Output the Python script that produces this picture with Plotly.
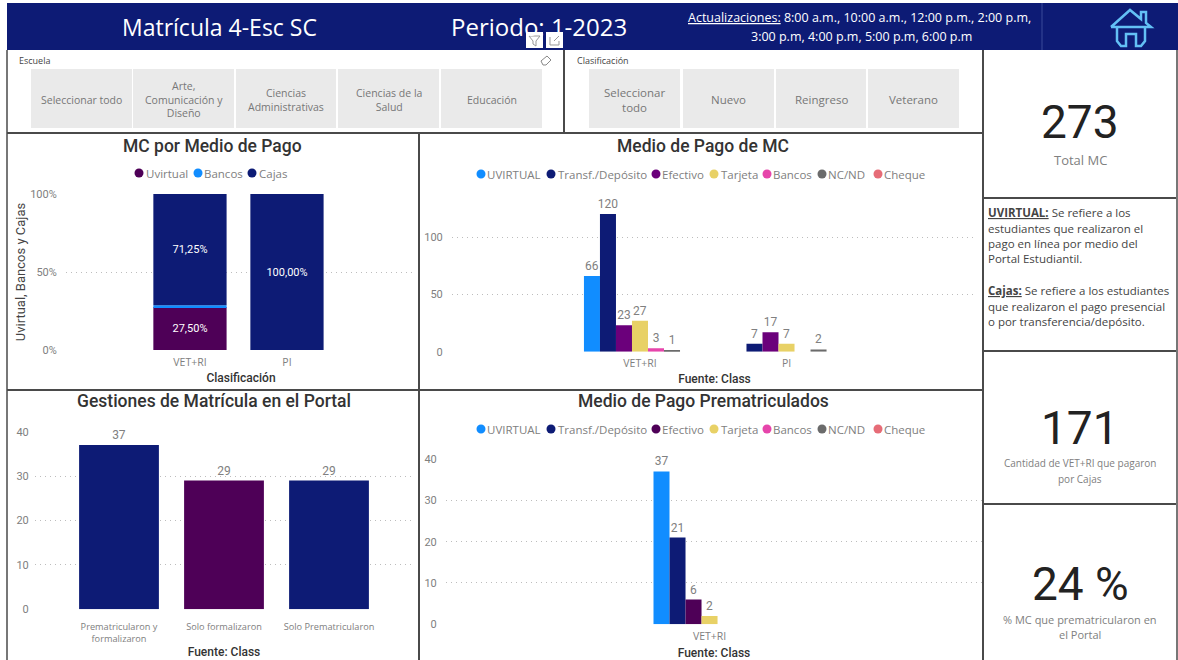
import plotly.graph_objects as go

W, H = 1178, 660
NAVY = "#0D1B75"
PURPLE_DK = "#4E0057"
SANS = "Open Sans"
DIN = "Roboto"
GRAY = "#808080"
DARK = "#333333"
FRAME = "#4a4a4a"

# ---------- data ----------
class_mix = ["VET+RI", "PI"]
mix_uvirtual = [27.5, None]
mix_bancos = [1.25, None]
mix_cajas = [71.25, 100.0]
mix_uvirtual_text = ["27,50%", ""]
mix_cajas_text = ["71,25%", "100,00%"]
mix_names = ["Uvirtual", "Bancos", "Cajas"]
mix_colors = [PURPLE_DK, "#118DFF", NAVY]

pay_names = ["UVIRTUAL", "Transf./Depósito", "Efectivo", "Tarjeta", "Bancos", "NC/ND", "Cheque"]
pay_colors_mc = ["#118DFF", NAVY, "#6B007B", "#E8D166", "#E645AB", "#6B6B6B", "#E66C77"]
pay_colors_pre = ["#118DFF", NAVY, PURPLE_DK, "#E8D166", "#E645AB", "#6B6B6B", "#E66C77"]

class_mc = ["VET+RI", "PI"]
mc_uvirtual = [66, None]
mc_transf = [120, 7]
mc_efectivo = [23, 17]
mc_tarjeta = [27, 7]
mc_bancos = [3, None]
mc_ncnd = [1, 2]
mc_cheque = [None, None]

class_pre = ["VET+RI"]
pre_uvirtual = [37]
pre_transf = [21]
pre_efectivo = [6]
pre_tarjeta = [2]
pre_bancos = [None]
pre_ncnd = [None]
pre_cheque = [None]

gest_cats = ["Prematricularon y formalizaron", "Solo formalizaron", "Solo Prematricularon"]
gest_ticks = ["Prematricularon y<br>formalizaron", "Solo formalizaron", "Solo Prematricularon"]
gest_vals = [37, 29, 29]
gest_colors = [NAVY, PURPLE_DK, NAVY]

school_buttons = ["Seleccionar todo", "Arte,<br>Comunicación y<br>Diseño", "Ciencias<br>Administrativas",
                  "Ciencias de la<br>Salud", "Educación"]
class_buttons = ["Seleccionar<br>todo", "Nuevo", "Reingreso", "Veterano"]


def fx(x):
    return x / W


def fy(y):
    return 1 - y / H


shapes, notes = [], []


def rect(x0, y0, x1, y1, fill, line=None, lw=0):
    shapes.append(dict(type="rect", xref="paper", yref="paper", x0=fx(x0), x1=fx(x1), y0=fy(y0), y1=fy(y1),
                       fillcolor=fill, line=dict(color=line or fill, width=lw), layer="below"))


def seg(x0, y0, x1, y1, color=FRAME, lw=2):
    shapes.append(dict(type="line", xref="paper", yref="paper", x0=fx(x0), x1=fx(x1), y0=fy(y0), y1=fy(y1),
                       line=dict(color=color, width=lw), layer="below"))


def path(points, color, lw, close=False):
    d = "M " + " L ".join(f"{fx(a):.5f},{fy(b):.5f}" for a, b in points) + (" Z" if close else "")
    shapes.append(dict(type="path", xref="paper", yref="paper", path=d, line=dict(color=color, width=lw), layer="above"))


def text(x, y, s, size=12, color=GRAY, font=SANS, anchor="center", weight=None):
    f = dict(size=size, color=color, family=font)
    if weight:
        f["weight"] = weight
    notes.append(dict(xref="paper", yref="paper", x=fx(x - 2 if anchor == "left" else x), y=fy(y), text=s,
                      showarrow=False, xanchor=anchor, yanchor="middle", align=anchor, font=f))


def legend(names, colors, dots, starts, y, size=11.5):
    for n, c, d, s in zip(names, colors, dots, starts):
        shapes.append(dict(type="circle", xref="paper", yref="paper", x0=fx(d - 4.5), x1=fx(d + 4.5),
                           y0=fy(y + 4.5), y1=fy(y - 4.5), fillcolor=c, line=dict(width=0), layer="above"))
        text(s, y, n, size=size, color=GRAY, anchor="left")


# ---------- chrome ----------
rect(7, 3, 1178, 50, NAVY)
seg(1042, 3, 1042, 50, "#3a4a9a", 1)
text(219, 27, "Matrícula 4-Esc SC", 23, "white")
text(539, 27, "Periodo: 1-2023", 24, "white")
text(859, 18, "<u>Actualizaciones:</u> 8:00 a.m., 10:00 a.m., 12:00 p.m., 2:00 p.m,", 12.5, "white")
text(861, 37, "3:00 p.m, 4:00 p.m, 5:00 p.m, 6:00 p.m", 12.5, "white")

# house icon
path([(1111, 27), (1130, 10), (1141, 19), (1141, 12), (1146, 12), (1146, 23), (1151, 27), (1111, 27)], "#63C0F5", 2.5)
path([(1117, 27), (1117, 41), (1121, 46), (1126, 46), (1126, 34), (1136, 34), (1136, 46), (1141, 46), (1145, 41), (1145, 27)],
     "#63C0F5", 2.5)

# frames
seg(7, 50, 7, 660, "#777777")
seg(7, 133, 983, 133)
seg(564, 50, 564, 133)
seg(983, 50, 983, 660)
seg(419, 133, 419, 660)
seg(7, 390, 983, 390)
seg(983, 198, 1178, 198)
seg(983, 351, 1178, 351)
seg(983, 504, 1178, 504)
seg(1177, 50, 1177, 660, "#777777")

# slicers
text(19, 61, "Escuela", 9, "#444444", anchor="left")
text(577, 61, "Clasificación", 9, "#444444", anchor="left")
school_edges = [(31, 132), (133, 234), (236, 336), (338, 439), (441, 542)]
for (a, b), s in zip(school_edges, school_buttons):
    rect(a, 69, b, 128, "#EAEAEA")
    text((a + b) / 2, 99.5, s, 10.5, "#777777")
class_edges = [(589, 680), (683, 774), (776, 866), (868, 959)]
for (a, b), s in zip(class_edges, class_buttons):
    rect(a, 69, b, 128, "#EAEAEA")
    text((a + b) / 2, 99.5, s, 11.5, "#777777")

# visual header icons
rect(526, 32, 543, 48, "white")
rect(546, 32, 563, 48, "white")
path([(529, 36), (540, 36), (536, 41), (536, 46), (533, 44), (533, 41)], "#999999", 1, True)
path([(550, 37), (550, 45), (559, 45), (559, 41)], "#999999", 1)
path([(554, 41), (559, 36)], "#999999", 1)
path([(541, 61), (547, 56), (551, 60), (546, 65), (543, 65)], "#888888", 1, True)

# KPI cards
text(1080, 122, "273", 46, "#222222", DIN)
text(1080, 160, "Total MC", 13, GRAY)
text(1080, 428, "171", 46, "#222222", DIN)
text(1080, 463, "Cantidad de VET+RI que pagaron", 10, GRAY)
text(1080, 479, "por Cajas", 10, GRAY)
text(1080, 584, "24 %", 46, "#222222", DIN)
text(1080, 619, "% MC que prematricularon en", 11, GRAY)
text(1080, 634, "el Portal", 11, GRAY)

note_lines = [
    (212, "<b><u>UVIRTUAL:</u></b> Se refiere a los"),
    (228, "estudiantes que realizaron el"),
    (243, "pago en línea por medio del"),
    (259, "Portal Estudiantil."),
    (290, "<b><u>Cajas:</u></b> Se refiere a los estudiantes"),
    (306, "que realizaron el pago presencial"),
    (321, "o por transferencia/depósito."),
]
for y, s in note_lines:
    text(988, y, s, 11.5, "#444444", anchor="left")

# chart titles
text(212, 146, "MC por Medio de Pago", 17.5, DARK, DIN, weight=500)
text(703, 146, "Medio de Pago de MC", 17.5, DARK, DIN, weight=500)
text(214, 401, "Gestiones de Matrícula en el Portal", 17.5, DARK, DIN, weight=500)
text(703, 401, "Medio de Pago Prematriculados", 17.5, DARK, DIN, weight=500)

# legends
legend(mix_names, mix_colors, [139, 198, 252], [146, 204, 259], 173, 11.5)
pay_dots = [481, 551, 656, 714, 767, 822, 878]
pay_starts = [487, 558, 662, 721, 773, 828, 884]
legend(pay_names, pay_colors_mc, pay_dots, pay_starts, 174, 11.5)
legend(pay_names, pay_colors_pre, pay_dots, pay_starts, 429, 11.5)


# ---------- axes ----------
def axes(xname, yname, x0, x1, ybot, ytop, xr, yr, tickvals, ticktext, ticksize=11, gap=6, xtitle=None, ytitle=None,
         standoff=6, xfont=10.5, xgap=2):
    fig.update_layout({
        xname: dict(domain=[fx(x0), fx(x1)], range=xr, type="category", showgrid=False, showline=False, zeroline=False,
                    ticks="outside", ticklen=xgap, tickcolor="rgba(0,0,0,0)", tickangle=0, automargin=False,
                    tickfont=dict(size=xfont, color=GRAY, family=SANS),
                    title=dict(text=xtitle, standoff=standoff, font=dict(size=12, color=DARK, family=DIN, weight=500)),
                    anchor=yname.replace("axis", ""), fixedrange=True),
        yname: dict(domain=[fy(ybot), fy(ytop)], range=yr, showgrid=True, griddash="1px,4px", gridcolor="#bdbdbd",
                    gridwidth=1, zeroline=False, showline=False, tickmode="array", tickvals=tickvals, ticktext=ticktext,
                    ticks="outside", ticklen=gap, tickcolor="rgba(0,0,0,0)", automargin=False,
                    tickfont=dict(size=ticksize, color=GRAY, family=DIN),
                    title=dict(text=ytitle, standoff=1, font=dict(size=13, color="#444444", family=DIN)),
                    anchor=xname.replace("axis", ""), fixedrange=True),
    })


fig = go.Figure()

# panel 1: stacked share by payment channel (stack built from the series themselves)
base_bancos = [(u or 0) for u in mix_uvirtual]
base_cajas = [(u or 0) + (b or 0) for u, b in zip(mix_uvirtual, mix_bancos)]
for vals, base, color, name, labels in [
    (mix_uvirtual, None, mix_colors[0], mix_names[0], mix_uvirtual_text),
    (mix_bancos, base_bancos, mix_colors[1], mix_names[1], None),
    (mix_cajas, base_cajas, mix_colors[2], mix_names[2], mix_cajas_text),
]:
    fig.add_trace(go.Bar(x=class_mix, y=vals, base=base, name=name, marker=dict(color=color, line=dict(width=0)),
                         width=0.755, offset=-0.3775, text=labels, textposition="inside", insidetextanchor="middle",
                         textangle=0, constraintext="none", textfont=dict(size=11, color="white", family=DIN),
                         xaxis="x", yaxis="y", showlegend=False))

# panel 2
for vals, color, name in zip([mc_uvirtual, mc_transf, mc_efectivo, mc_tarjeta, mc_bancos, mc_ncnd, mc_cheque],
                             pay_colors_mc, pay_names):
    fig.add_trace(go.Bar(x=class_mc, y=vals, name=name, marker=dict(color=color, line=dict(width=0)), text=vals,
                         textposition="outside", cliponaxis=False, constraintext="none", textangle=0,
                         textfont=dict(size=12, color=GRAY, family=DIN), xaxis="x2", yaxis="y2", showlegend=False))

# panel 3
fig.add_trace(go.Bar(x=gest_cats, y=gest_vals, marker=dict(color=gest_colors, line=dict(width=0)), text=gest_vals,
                     width=0.76, offset=-0.38, textposition="outside", cliponaxis=False, constraintext="none",
                     textfont=dict(size=12, color=GRAY, family=DIN), xaxis="x3", yaxis="y3", showlegend=False))

# panel 4
for vals, color, name in zip([pre_uvirtual, pre_transf, pre_efectivo, pre_tarjeta, pre_bancos, pre_ncnd, pre_cheque],
                             pay_colors_pre, pay_names):
    fig.add_trace(go.Bar(x=class_pre, y=vals, name=name, marker=dict(color=color, line=dict(width=0)), text=vals,
                         textposition="outside", cliponaxis=False, constraintext="none", textangle=0,
                         textfont=dict(size=12, color=GRAY, family=DIN), xaxis="x4", yaxis="y4", showlegend=False))

axes("xaxis", "yaxis", 66, 416, 350, 194, [-1.278, 2.33], [0, 100], [0, 50, 100], ["0%", "50%", "100%"],
     xtitle="Clasificación", ytitle="Uvirtual, Bancos y Cajas")
axes("xaxis2", "yaxis2", 452, 977, 351.7, 190, [-1.283, 2.30], [0, 141], [0, 50, 100], ["0", "50", "100"],
     xtitle="Fuente: Class", standoff=5)
axes("xaxis3", "yaxis3", 35, 413, 609.3, 431.7, [-0.8, 2.8], [0, 40], [0, 10, 20, 30, 40], ["0", "10", "20", "30", "40"],
     gap=3, xtitle="Fuente: Class", xfont=9.2, xgap=9, standoff=3)
axes("xaxis4", "yaxis4", 446, 982, 624.3, 459, [-1.799, 1.860], [0, 40], [0, 10, 20, 30, 40],
     ["0", "10", "20", "30", "40"], xtitle="Fuente: Class")
fig.update_layout(xaxis3=dict(tickmode="array", tickvals=gest_cats, ticktext=gest_ticks))

fig.update_layout(
    width=W, height=H, margin=dict(l=0, r=0, t=0, b=0), paper_bgcolor="white", plot_bgcolor="white",
    barmode="group", bargap=0.235, bargroupgap=0, showlegend=False, shapes=shapes, annotations=notes,
    font=dict(family=SANS), hovermode=False,
)

fig.write_html("out.html", config=dict(displayModeBar=False),
               post_script="document.body.style.margin='0';document.body.style.overflow='hidden';")
